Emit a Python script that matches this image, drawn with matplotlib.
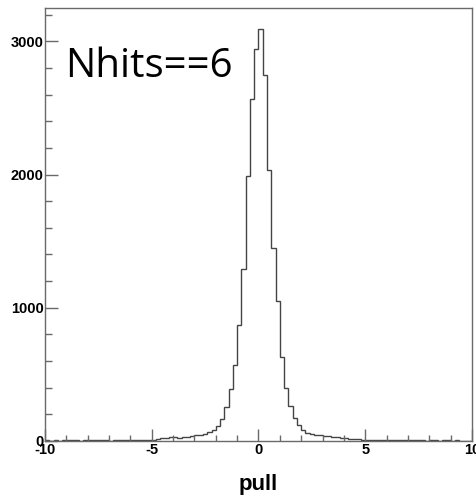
import numpy as np
import matplotlib
matplotlib.use("Agg")
import matplotlib.pyplot as plt
from matplotlib.ticker import MultipleLocator

plt.rcParams["axes.unicode_minus"] = False

# --- histogram of pull, 100 bins over [-10, 10] ---
bin_edges = np.linspace(-10, 10, 101)

left_tail = [4, 3, 5, 3, 4, 6, 4, 5, 3, 4, 6, 5, 4, 5, 4, 3, 7, 6, 5, 8, 6, 7, 6, 9, 8]
left_shoulder = [10, 12, 22, 25, 28, 30, 25, 28, 32, 36, 42, 48, 55, 65, 85, 112, 165, 258]
left_core = [388, 570, 870, 1288, 1990, 2565, 2940]
right_core = [3090, 2745, 2032, 1450, 1052, 632, 395]
right_shoulder = [262, 170, 120, 82, 58, 50, 45, 42, 38, 35, 32, 28, 25, 20, 18, 14, 12, 10]
right_tail = [8, 9, 6, 8, 5, 6, 7, 4, 5, 6, 8, 5, 4, 5, 3, 4, 5, 3, 4, 6, 3, 4, 3, 2, 3]

counts = np.array(left_tail + left_shoulder + left_core
                  + right_core + right_shoulder + right_tail)

label_text = "Nhits==6"
x_label = "pull"
y_ticks = [0, 1000, 2000, 3000]
x_ticks = [-10, -5, 0, 5, 10]

frame_col = "#6a6a6a"

fig = plt.figure(figsize=(4.77, 4.95), dpi=100)
ax = fig.add_axes([45 / 477, 1 - 441 / 495, 427 / 477, 433 / 495])

ax.stairs(counts, bin_edges, color="#444444", lw=1.0)

ax.set_xlim(-10, 10)
ax.set_ylim(0, 3250)
ax.set_xticks(x_ticks)
ax.set_yticks(y_ticks)
ax.xaxis.set_minor_locator(MultipleLocator(1))
ax.yaxis.set_minor_locator(MultipleLocator(200))

for s in ax.spines.values():
    s.set_color(frame_col)
    s.set_linewidth(1.0)

ax.tick_params(which="both", direction="in", color=frame_col, width=1.0,
               top=False, right=False)
ax.tick_params(axis="x", which="major", length=9, pad=1.5)
ax.tick_params(axis="x", which="minor", length=4.5)
ax.tick_params(axis="y", which="major", length=9.5, pad=1)
ax.tick_params(axis="y", which="minor", length=5)

for lab in ax.get_xticklabels() + ax.get_yticklabels():
    lab.set_fontfamily("Liberation Sans")
    lab.set_fontweight("bold")
    lab.set_fontsize(10.5)

ax.set_xlabel(x_label, fontfamily="Liberation Sans", fontweight="bold",
              fontsize=16, labelpad=12)

ax.text((65 - 45) / 427, (441 - 77) / 433, label_text, transform=ax.transAxes,
        fontfamily="Open Sans", fontsize=29, va="baseline", ha="left",
        color="black")

fig.savefig("out.png", dpi=100)
